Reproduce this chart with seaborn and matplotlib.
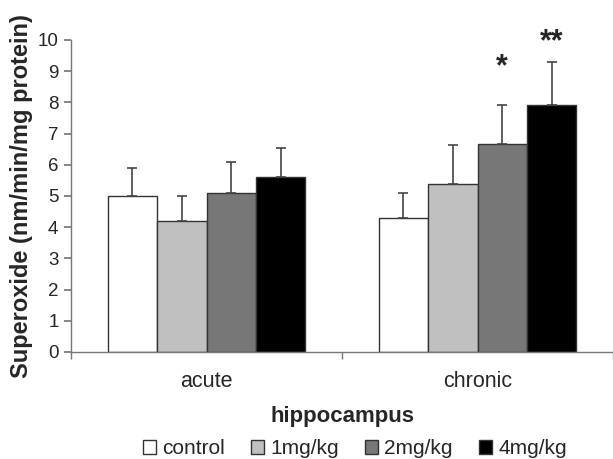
import matplotlib
matplotlib.use("Agg")
import matplotlib.pyplot as plt
import seaborn as sns
import pandas as pd

periods = ["acute", "chronic"]
doses = ["control", "1mg/kg", "2mg/kg", "4mg/kg"]
acute_vals = [5.0, 4.2, 5.1, 5.6]
acute_err = [0.9, 0.8, 1.0, 0.95]
chronic_vals = [4.3, 5.4, 6.68, 7.93]
chronic_err = [0.8, 1.22, 1.25, 1.35]
colors = ["#ffffff", "#c0c0c0", "#777777", "#000000"]
# significance marks: (period, dose) -> (label, y position in data units)
stars = {("chronic", "2mg/kg"): ("*", 9.12), ("chronic", "4mg/kg"): ("**", 9.93)}

sns.set_theme(style="white")
plt.rcParams["font.family"] = ["Liberation Sans", "DejaVu Sans"]

df = pd.DataFrame({
    "period": [p for p in periods for _ in doses],
    "dose": doses * 2,
    "value": acute_vals + chronic_vals,
    "err": acute_err + chronic_err,
})

fig = plt.figure(figsize=(6.13, 4.59), dpi=100)
ax = fig.add_axes([71/613, 1-352/459, 1-71/613, (352-40)/459])

sns.barplot(data=df, x="period", y="value", hue="dose", order=periods,
            hue_order=doses, palette=colors, width=0.73, gap=0,
            errorbar=None, edgecolor="#333333", linewidth=1.0, ax=ax,
            legend=True)

# error bars (upper only) placed at the bar centres
for cont, dose in zip(ax.containers, doses):
    for bar, period in zip(cont, periods):
        row = df[(df.period == period) & (df.dose == dose)].iloc[0]
        xc = bar.get_x() + bar.get_width() / 2
        ax.errorbar(xc, row.value, yerr=[[0], [row.err]], fmt="none",
                    ecolor="#444444", elinewidth=1.2, capsize=3.8, capthick=1.2)
        key = (period, dose)
        if key in stars:
            lab, ys = stars[key]
            ax.text(xc, ys, lab, ha="center", va="center", fontsize=22,
                    fontweight="bold", clip_on=False)

ax.set_ylim(0, 10)
ax.set_xlim(-0.5, 1.5)
ax.set_yticks(range(0, 11))
ax.set_xticks([0, 1])
ax.set_xticklabels(periods)
ax.set_xticks([-0.5, 0.5, 1.5], minor=True)
ax.tick_params(axis="x", which="major", length=0, labelsize=15.5, pad=14)
ax.tick_params(axis="x", which="minor", length=5, color="#777777", direction="out", bottom=True)
ax.tick_params(axis="y", length=5, color="#777777", direction="out", left=True,
               labelsize=13.5, pad=4)
for s in ["top", "right"]:
    ax.spines[s].set_visible(False)
for s in ["left", "bottom"]:
    ax.spines[s].set_color("#777777")
    ax.spines[s].set_linewidth(1.0)

ax.set_ylabel("Superoxide (nm/min/mg protein)", fontsize=17, fontweight="bold", labelpad=3)
ax.set_xlabel("hippocampus", fontsize=16, fontweight="bold", labelpad=10)

handles, labels = ax.get_legend_handles_labels()
ax.legend(handles, labels, loc="center", bbox_to_anchor=(355/613, 1-449/459),
          bbox_transform=fig.transFigure, ncol=4, frameon=False, fontsize=15,
          handlelength=0.62, handleheight=0.62, handletextpad=0.3,
          columnspacing=1.25, borderpad=0)

fig.savefig("out.png", dpi=100)
